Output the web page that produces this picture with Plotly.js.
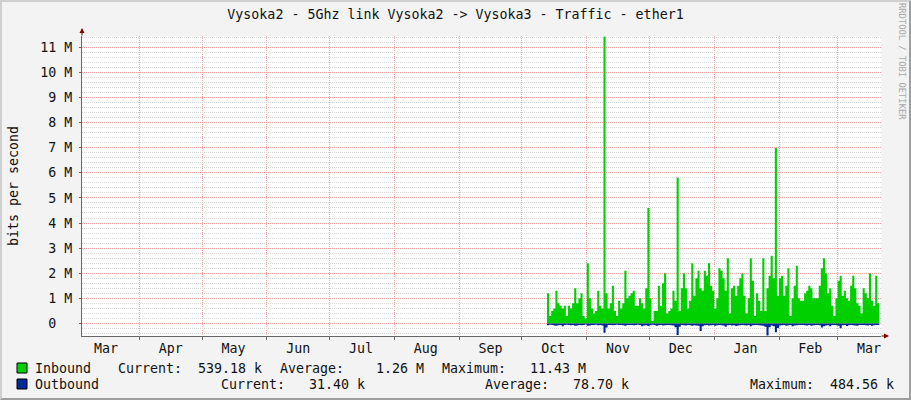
<!DOCTYPE html>
<html>
<head>
<meta charset="utf-8">
<script src="https://cdn.plot.ly/plotly-3.0.1.min.js"></script>
<style>
body{margin:0;background:#f3f3f3}
#wrap{position:relative;width:911px;height:400px}
#graf{position:absolute;left:0;top:0;width:911px;height:400px}
#ramka{position:absolute;left:0;top:0;width:911px;height:400px;box-sizing:border-box;border:2px solid;border-color:#cfcfcf #9e9e9e #9e9e9e #cfcfcf;pointer-events:none}
</style>
</head>
<body>
<div id="wrap"><div id="graf"></div><div id="ramka"></div></div>
<script>
// daily samples starting 2022-10-13
var start = '2022-10-13'

// inbound, Mbit/s
var inbound = [
	1.2, 0.3, 0.5, 0.6, 1.3, 0.8, 0.7, 0.6, 0.7, 0.3,
	0.7, 0.6, 0.8, 1.4, 0.8, 1.0, 1.2, 0.3, 0.2, 2.4,
	1.0, 0.6, 0.4, 0.5, 1.3, 0.7, 0.6, 11.43, 1.2, 0.6,
	0.8, 1.5, 0.5, 0.3, 0.9, 0.6, 0.8, 2.1, 1.0, 1.1,
	1.2, 1.3, 0.7, 0.7, 1.0, 0.8, 0.6, 1.4, 4.6, 1.0,
	0.1, 0.5, 0.5, 1.5, 0.7, 1.6, 2.0, 0.4, 0.5, 0.6,
	1.3, 0.9, 5.8, 0.5, 1.4, 2.0, 1.4, 0.6, 0.9, 2.4,
	1.1, 1.8, 2.1, 1.4, 1.3, 2.1, 1.9, 2.4, 1.5, 1.3,
	0.6, 1.0, 2.2, 2.1, 1.8, 1.3, 2.6, 0.4, 1.4, 1.5,
	1.1, 1.5, 1.8, 2.0, 1.1, 0.4, 1.0, 2.6, 1.7, 0.3,
	1.2, 0.9, 0.5, 2.6, 0.5, 1.4, 1.9, 2.7, 1.8, 7.0,
	1.1, 1.8, 1.9, 1.1, 1.5, 2.2, 0.3, 1.0, 1.5, 2.3,
	1.0, 0.9, 0.9, 1.2, 1.3, 1.5, 1.4, 1.0, 1.0, 1.0,
	1.5, 2.2, 2.6, 2.0, 1.2, 1.4, 0.7, 0.3, 1.0, 1.7,
	1.9, 1.1, 1.3, 1.0, 0.9, 1.5, 1.9, 1.4, 0.8, 0.7,
	0.4, 1.4, 1.2, 1.0, 2.0, 0.9, 0.7, 1.9, 0.8, 0.54
]

// outbound, kbit/s (drawn below zero)
var outbound = [
	70, 55, 60, 80, 95, 70, 60, 110, 65, 50,
	60, 75, 65, 95, 85, 65, 70, 60, 45, 90,
	80, 65, 60, 55, 75, 65, 85, 370, 160, 65,
	60, 75, 65, 50, 60, 65, 75, 95, 65, 60,
	65, 75, 60, 55, 65, 110, 80, 75, 105, 75,
	55, 65, 90, 75, 65, 80, 75, 60, 65, 75,
	80, 150, 460, 130, 65, 75, 80, 65, 75, 90,
	75, 80, 95, 300, 110, 75, 65, 80, 75, 65,
	90, 75, 65, 75, 80, 130, 75, 65, 80, 75,
	100, 80, 75, 65, 75, 80, 65, 110, 75, 60,
	65, 75, 80, 90, 130, 485, 150, 80, 110, 350,
	180, 80, 75, 65, 90, 75, 65, 110, 80, 75,
	65, 60, 65, 75, 80, 65, 95, 75, 65, 60,
	75, 160, 110, 80, 75, 110, 65, 60, 75, 90,
	190, 75, 65, 100, 75, 65, 75, 80, 95, 65,
	60, 65, 75, 80, 65, 90, 75, 60, 65, 31.4
]

var monthTicks = ['2022-03-16','2022-04-16','2022-05-16','2022-06-16','2022-07-16','2022-08-16',
	'2022-09-16','2022-10-16','2022-11-16','2022-12-16','2023-01-16','2023-02-16','2023-03-16']
var monthLabels = ['Mar','Apr','May','Jun','Jul','Aug','Sep','Oct','Nov','Dec','Jan','Feb','Mar']

var yTicks = [0,1,2,3,4,5,6,7,8,9,10,11]
// "0" is padded like rrdtool does (blank unit column)
var yLabels = ['0<span style="color:rgba(0,0,0,0)">MM</span>','1 M','2 M','3 M','4 M','5 M','6 M','7 M','8 M','9 M','10 M','11 M']

var legendRows = [
	['Inbound', 'Current:  539.18 k', 'Average:    1.26 M', 'Maximum:   11.43 M'],
	['Outbound', 'Current:   31.40 k', 'Average:   78.70 k', 'Maximum:  484.56 k']
]

var mono = 'DejaVu Sans Mono'
var color = ['#00cf00', '#002a97']

// plot area in pixels
var L = 82, R = 881, T = 36, B = 336
function px(x) { return (x - L) / (R - L) }
function py(y) { return (B - y) / (B - T) }

var dane = [
	{
		type: 'scatter',
		mode: 'lines',
		x0: start, dx: 86400000,
		y: inbound,
		fill: 'tozeroy',
		fillcolor: color[0],
		line: {width: 0, shape: 'hv', color: color[0]},
		hoverinfo: 'skip'
	},
	{
		type: 'scatter',
		mode: 'lines',
		x0: start, dx: 86400000,
		y: outbound.map(function(v) { return -v / 1000 }),
		fill: 'tozeroy',
		fillcolor: color[1],
		line: {width: 0, shape: 'hv', color: color[1]},
		hoverinfo: 'skip'
	}
]

var ann = []
var shapes = []
var legX = [[34, 117, 279, 440.5], [34, 220, 484, 748.5]]
var legY = [368, 384]
for (var i = 0; i < legendRows.length; i++)
{
	for (var j = 0; j < legendRows[i].length; j++)
	{
		ann.push({
			xref: 'paper', yref: 'paper',
			x: px(legX[i][j]), y: py(legY[i]),
			xanchor: 'left', yanchor: 'middle',
			text: legendRows[i][j], showarrow: false, borderpad: 0,
			font: {family: mono, size: 13.3, color: '#111'}
		})
	}
	shapes.push({
		type: 'rect', xref: 'paper', yref: 'paper',
		x0: px(17), x1: px(27), y0: py(legY[i] + 5), y1: py(legY[i] - 5),
		fillcolor: color[i], line: {color: '#000', width: 1}
	})
}

// axis arrows
ann.push({xref: 'paper', yref: 'paper', x: 0, y: py(28), ax: 0, ay: 9, text: '',
	showarrow: true, arrowhead: 2, arrowsize: 1, arrowwidth: 1, arrowcolor: '#800000'})
ann.push({xref: 'paper', yref: 'paper', x: px(889), y: 0, ax: -9, ay: 0, text: '',
	showarrow: true, arrowhead: 2, arrowsize: 1, arrowwidth: 1, arrowcolor: '#800000'})

// watermark
ann.push({xref: 'paper', yref: 'paper', x: px(902), y: py(61), xanchor: 'center', yanchor: 'middle',
	text: 'RRDTOOL / TOBI OETIKER', textangle: 90, showarrow: false,
	font: {family: mono, size: 8.8, color: '#a8a8a8'}})

var layout = {
	width: 911, height: 400,
	margin: {l: L, r: 911 - R, t: T, b: 400 - B},
	paper_bgcolor: '#f3f3f3',
	plot_bgcolor: '#ffffff',
	showlegend: false,
	font: {family: mono, size: 13.3, color: '#111'},
	title: {
		text: 'Vysoka2 - 5Ghz link Vysoka2 -> Vysoka3 - Traffic - ether1',
		xref: 'container', x: 0.5, xanchor: 'center',
		yref: 'container', y: 1 - 14 / 400, yanchor: 'middle',
		font: {family: mono, size: 13.3, color: '#111'}
	},
	xaxis: {
		type: 'date',
		range: ['2022-03-04 12:00', '2023-03-21 19:00'],
		tickmode: 'array', tickvals: monthTicks, ticktext: monthLabels,
		ticks: '', showgrid: false, zeroline: false,
		showline: true, linecolor: '#666', linewidth: 1,
		minor: {
			tickmode: 'linear', tick0: '2022-03-01', dtick: 'M1',
			ticks: 'outside', ticklen: 3, tickcolor: '#666',
			showgrid: true, gridcolor: '#f2a0a0', griddash: '1px,1px', gridwidth: 1
		}
	},
	yaxis: {
		range: [-0.5, 11.45],
		tickmode: 'array', tickvals: yTicks, ticktext: yLabels,
		ticks: 'outside', ticklen: 2, tickcolor: '#666', ticklabelstandoff: 4,
		showgrid: true, gridcolor: '#f2a0a0', griddash: '1px,1px', gridwidth: 1,
		zeroline: false,
		showline: true, linecolor: '#666', linewidth: 1,
		title: {text: 'bits per second', standoff: 18, font: {family: mono, size: 13.3, color: '#111'}},
		minor: {
			tickmode: 'linear', tick0: 0, dtick: 0.2,
			showgrid: true, gridcolor: '#d6d6d6', griddash: '1px,1px', gridwidth: 1
		}
	},
	annotations: ann,
	shapes: shapes
}

Plotly.newPlot('graf', dane, layout, {staticPlot: true})
</script>
</body>
</html>
